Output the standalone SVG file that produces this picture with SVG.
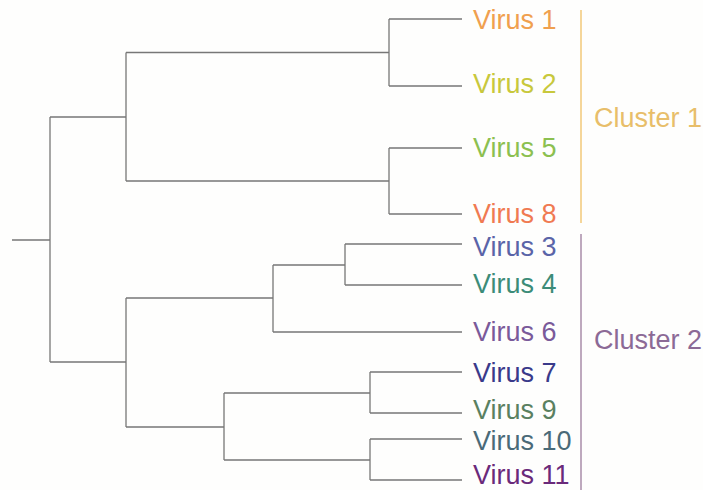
<svg xmlns="http://www.w3.org/2000/svg" width="703" height="490" viewBox="0 0 703 490">
<style>
.br{fill:none;stroke:#777;stroke-width:1.3}
.lbl{font-family:"Liberation Sans",Arial,sans-serif;font-size:27px}
</style>
<rect width="703" height="490" fill="#fefefd"/>
<g id="connectors">
<path class="br" d="M12,240H50M50,117V362M50,117H126M50,362H126"/>
<path class="br" d="M126,52.5V181M126,52.5H389M126,181H389"/>
<path class="br" d="M389,19V86M389,19H462M389,86H462"/>
<path class="br" d="M389,148V214M389,148H462M389,214H462"/>
<path class="br" d="M126,298V427M126,298H273M126,427H224"/>
<path class="br" d="M273,265V332M273,265H345M273,332H462"/>
<path class="br" d="M345,244V285M345,244H462M345,285H462"/>
<path class="br" d="M224,393V460M224,393H370M224,460H370"/>
<path class="br" d="M370,372V413M370,372H462M370,413H462"/>
<path class="br" d="M370,439V480M370,439H462M370,480H462"/>
</g>
<g id="virus1"><text class="lbl" x="473" y="29" fill="#F0A04E">Virus 1</text></g>
<g id="virus2"><text class="lbl" x="473" y="93" fill="#C8C83C">Virus 2</text></g>
<g id="virus5"><text class="lbl" x="473" y="157" fill="#8CC050">Virus 5</text></g>
<g id="virus8"><text class="lbl" x="473" y="223" fill="#F07A52">Virus 8</text></g>
<g id="virus3"><text class="lbl" x="473" y="256" fill="#5A64A8">Virus 3</text></g>
<g id="virus4"><text class="lbl" x="473" y="293" fill="#3C8C78">Virus 4</text></g>
<g id="virus6"><text class="lbl" x="473" y="341" fill="#7A5A9A">Virus 6</text></g>
<g id="virus7"><text class="lbl" x="473" y="382" fill="#3A3A8A">Virus 7</text></g>
<g id="virus9"><text class="lbl" x="473" y="419" fill="#5A8060">Virus 9</text></g>
<g id="virus10"><text class="lbl" x="473" y="450" fill="#4A6A78">Virus 10</text></g>
<g id="virus11"><text class="lbl" x="473" y="484" fill="#6A2A7A">Virus 11</text></g>
<g id="cluster1">
<line x1="581" y1="10" x2="581" y2="223" stroke="#F2C878" stroke-width="1.5"/>
<text class="lbl" x="594" y="127" fill="#E8BE6A">Cluster 1</text>
</g>
<g id="cluster2">
<line x1="581" y1="234" x2="581" y2="490" stroke="#A88CA8" stroke-width="1.5"/>
<text class="lbl" x="594" y="349" fill="#8C6A96">Cluster 2</text>
</g>
</svg>
